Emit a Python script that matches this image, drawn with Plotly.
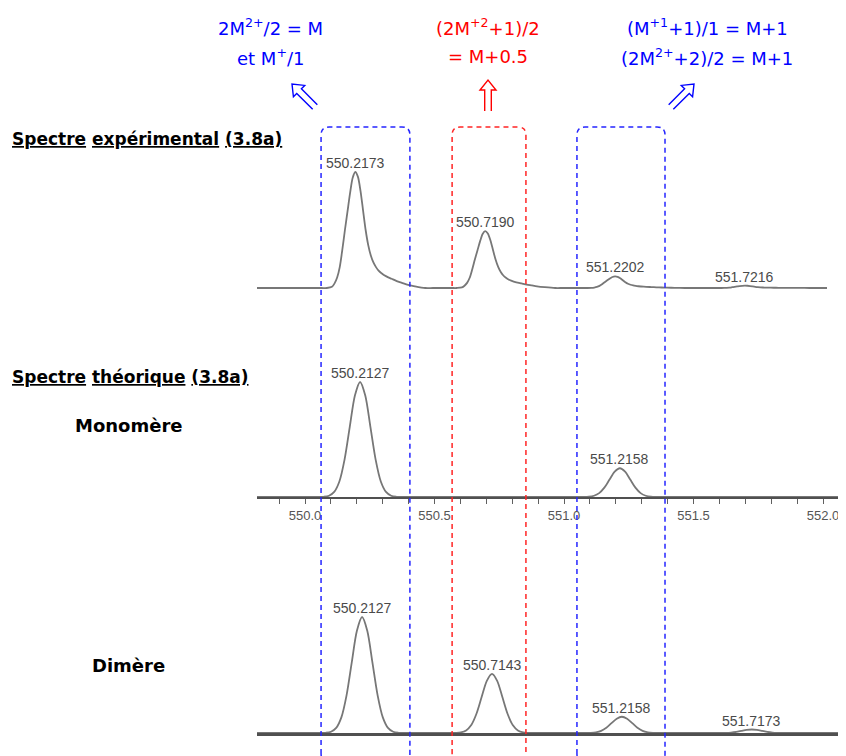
import math
import plotly.graph_objects as go

W, H = 846, 756
OFF = 8  # the page body has an 8px margin
PX_PER_MZ = 259

# peak lists: m/z and relative intensity (%)
exp_mz = [550.2173, 550.7190, 551.2202, 551.7216]
exp_int = [100, 49, 10, 2]
mono_mz = [550.2127, 551.2158]
mono_int = [100, 25]
dim_mz = [550.2127, 550.7143, 551.2158, 551.7173]
dim_int = [100, 51, 14, 3]

# peak profiles (m/z offset from apex, fraction of apex)
exp_off = [-0.13, -0.11, -0.09, -0.08, -0.07, -0.06, -0.05, -0.04, -0.03, -0.02, -0.01, 0.0,
           0.01, 0.02, 0.03, 0.04, 0.05, 0.06, 0.07, 0.08, 0.09, 0.10, 0.12, 0.14, 0.16,
           0.18, 0.20, 0.23, 0.27, 0.30]
exp_prof = [0.0, 0.0, 0.01, 0.04, 0.09, 0.18, 0.33, 0.5, 0.66, 0.82, 0.95, 1.0,
            0.96, 0.84, 0.67, 0.5, 0.37, 0.28, 0.22, 0.18, 0.15, 0.13, 0.10, 0.08, 0.06,
            0.045, 0.03, 0.015, 0.0, 0.0]
theo_off = [-0.18, -0.16, -0.14, -0.12, -0.10, -0.08, -0.06, -0.04, -0.02, 0.0,
            0.02, 0.04, 0.06, 0.08, 0.10, 0.12, 0.14, 0.16, 0.18]
theo_prof = [0.0, 0.0, 0.002, 0.011, 0.044, 0.135, 0.325, 0.607, 0.882, 1.0,
             0.882, 0.607, 0.325, 0.135, 0.044, 0.011, 0.002, 0.0, 0.0]

# m/z windows of the dashed boxes
box_lo = [550.062, 550.568, 551.050]
box_hi = [550.405, 550.853, 551.390]
box_col = ['#2525ff', '#ff2525', '#2525ff']

top_text = [
    ['2M<sup>2+</sup>/2 = M', 'et M<sup>+</sup>/1'],
    ['(2M<sup>+2</sup>+1)/2', '= M+0.5'],
    ['(M<sup>+1</sup>+1)/1 = M+1', '(2M<sup>2+</sup>+2)/2 = M+1'],
]
top_col = ['#0000ff', '#ff0000', '#0000ff']
top_x = [270, 488, 707]
# double arrows: tail and tip (pixels)
arrow_tail = [(315, 107), (488, 111), (671, 107)]
arrow_tip = [(292, 84), (488, 80), (694, 84)]


def fx(px):
    return (px - OFF) / W


def fy(py):
    return 1 - (py - OFF) / H


def xrange(px0, px1, zero_px):
    return [550 + (px0 - zero_px) / PX_PER_MZ, 550 + (px1 - zero_px) / PX_PER_MZ]


def yrange_dom(base_px, px_per_pct, lo, hi):
    return [fy(base_px - lo * px_per_pct), fy(base_px - hi * px_per_pct)]


def profile(mz, inten, off, prof, lo, hi):
    xs, ys = [lo], [0]
    for m, i in zip(mz, inten):
        for o, p in zip(off, prof):
            xs.append(m + o)
            ys.append(i * p)
    xs.append(hi)
    ys.append(0)
    return xs, ys


panels = [
    dict(xs=(257, 827), zero=299, base=288, k=1.16, yr=(-4, 104), mz=exp_mz, it=exp_int, off=exp_off, prof=exp_prof),
    dict(xs=(257, 846 + OFF), zero=305, base=497, k=1.15, yr=(0, 104), mz=mono_mz, it=mono_int, off=theo_off, prof=theo_prof),
    dict(xs=(257, 846 + OFF), zero=307, base=733, k=1.16, yr=(0, 104), mz=dim_mz, it=dim_int, off=theo_off, prof=theo_prof),
]

fig = go.Figure()
annotations = []
for n, p in enumerate(panels, start=1):
    xr = xrange(p['xs'][0], p['xs'][1], p['zero'])
    xs, ys = profile(p['mz'], p['it'], p['off'], p['prof'], xr[0] - 0.05, xr[1] + 0.05)
    sfx = '' if n == 1 else str(n)
    fig.add_trace(go.Scatter(x=xs, y=ys, mode='lines', line=dict(color='#777777', width=1.8, shape='spline', smoothing=0.8),
                             xaxis='x' + sfx, yaxis='y' + sfx, hoverinfo='skip'))
    fig.layout['xaxis' + sfx] = dict(domain=[fx(p['xs'][0]), min(1, fx(p['xs'][1]))], range=xr, anchor='y' + sfx,
                                     showgrid=False, zeroline=False, fixedrange=True)
    fig.layout['yaxis' + sfx] = dict(domain=yrange_dom(p['base'], p['k'], p['yr'][0], p['yr'][1]), range=list(p['yr']),
                                     anchor='x' + sfx, visible=False, fixedrange=True)
    for m, i in zip(p['mz'], p['it']):
        annotations.append(dict(x=m, y=i, xref='x' + sfx, yref='y' + sfx, text='%.4f' % m, showarrow=False,
                                yanchor='middle', yshift=9, font=dict(family='Arial', size=14, color='#4a4a4a')))

fig.update_layout(
    xaxis=dict(visible=False),
    xaxis2=dict(showline=True, linecolor='#505050', linewidth=2, ticks='outside', ticklen=5, tickwidth=1,
                tickcolor='#606060', dtick=0.5, tick0=550, tickformat='.1f',
                minor=dict(dtick=0.1, ticks='outside', ticklen=5, tickcolor='#606060'),
                tickfont=dict(family='Arial', size=13, color='#555555')),
    xaxis3=dict(showline=True, linecolor='#505050', linewidth=2.5, ticks='', showticklabels=False),
)

shapes = []
# dashed rounded boxes
ytop, ybot = fy(127), fy(762)
rx, ry = 8 / PX_PER_MZ, 8 / H
for x0, x1, c in zip(box_lo, box_hi, box_col):
    path = (f'M {x0},{ybot + ry} L {x0},{ytop - ry} Q {x0},{ytop} {x0 + rx},{ytop} '
            f'L {x1 - rx},{ytop} Q {x1},{ytop} {x1},{ytop - ry} L {x1},{ybot + ry} '
            f'Q {x1},{ybot} {x1 - rx},{ybot} L {x0 + rx},{ybot} Q {x0},{ybot} {x0},{ybot + ry} Z')
    shapes.append(dict(type='path', path=path, xref='x2', yref='paper', line=dict(color=c, width=1.5, dash='5px,4px')))

# hollow double arrows
for (tx, ty), (px, py), c in zip(arrow_tail, arrow_tip, top_col):
    L = math.hypot(px - tx, py - ty)
    ux, uy = (px - tx) / L, (py - ty) / L
    vx, vy = -uy, ux
    hh, hw, g = 10, 8, 3.3
    hx, hy = px - hh * ux, py - hh * uy
    pts = [(tx - g * vx, ty - g * vy), (hx - g * vx, hy - g * vy), (hx - hw * vx, hy - hw * vy), (px, py),
           (hx + hw * vx, hy + hw * vy), (hx + g * vx, hy + g * vy), (tx + g * vx, ty + g * vy)]
    path = 'M ' + ' L '.join(f'{fx(a):.5f},{fy(b):.5f}' for a, b in pts)
    shapes.append(dict(type='path', path=path, xref='paper', yref='paper', line=dict(color=c, width=1.4)))

# formulas above the boxes
for lines, c, x in zip(top_text, top_col, top_x):
    for t, y in zip(lines, [27, 57]):
        annotations.append(dict(x=fx(x), y=fy(y), xref='paper', yref='paper', text=t, showarrow=False,
                                xanchor='center', yanchor='middle', font=dict(family='DejaVu Sans', size=18, color=c)))

# section labels
labels = [
    ('<b><u>Spectre</u> <u>expérimental</u> <u>(3.8a)</u></b>', 10, 139, 'left', 17),
    ('<b><u>Spectre</u> <u>théorique</u> <u>(3.8a)</u></b>', 10, 377, 'left', 17),
    ('<b>Monomère</b>', 129, 425, 'center', 18),
    ('<b>Dimère</b>', 128, 665, 'center', 18),
]
for t, x, y, anc, sz in labels:
    annotations.append(dict(x=fx(x), y=fy(y), xref='paper', yref='paper', text=t, showarrow=False,
                            xanchor=anc, yanchor='middle', font=dict(family='DejaVu Sans', size=sz, color='black')))

fig.update_layout(
    width=W, height=H, margin=dict(l=0, r=0, t=0, b=0),
    paper_bgcolor='white', plot_bgcolor='white', showlegend=False,
    annotations=annotations, shapes=shapes,
)

fig.write_html("out.html")
